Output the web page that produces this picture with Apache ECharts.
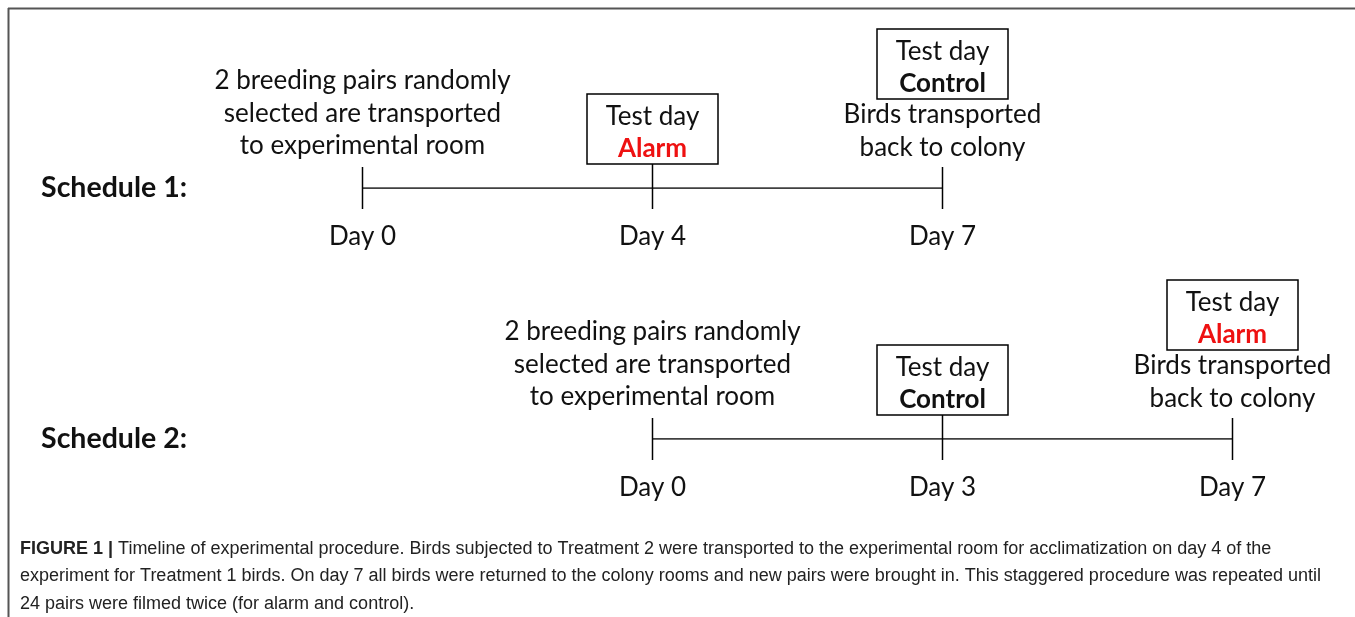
<!DOCTYPE html>
<html>
<head>
<meta charset="utf-8">
<script src="https://cdn.jsdelivr.net/npm/echarts@6/dist/echarts.min.js"></script>
<style>
  html, body { margin: 0; padding: 0; background: #fff; }
  #chart { width: 1355px; height: 617px; }
</style>
</head>
<body>
<div id="chart"></div>
<script>
// timeline data: slot = evenly spaced position on the shared axis
const schedules = ['Schedule 1:', 'Schedule 2:'];
const slots1 = [0, 1, 2];
const days1 = ['Day 0', 'Day 4', 'Day 7'];
const tests1 = ['', 'Alarm', 'Control'];
const slots2 = [1, 2, 3];
const days2 = ['Day 0', 'Day 3', 'Day 7'];
const tests2 = ['', 'Control', 'Alarm'];
const startNote = ['2 breeding pairs randomly', 'selected are transported', 'to experimental room'];
const endNote = ['Birds transported', 'back to colony'];
const captionLines = [
    'Timeline of experimental procedure. Birds subjected to Treatment 2 were transported to the experimental room for acclimatization on day 4 of the',
    'experiment for Treatment 1 birds. On day 7 all birds were returned to the colony rooms and new pairs were brought in. This staggered procedure was repeated until',
    '24 pairs were filmed twice (for alarm and control).'
];

const FONT = 'Lato, "Open Sans", sans-serif';
const SIZE = 26;
const INK = '#111';
const RED = '#ee1111';
const CAP_FONT = '"Liberation Sans Narrow", "Liberation Sans", sans-serif';

function txt(x, y, s, bold, color) {
    return {
        type: 'text',
        x: x,
        y: y,
        style: {
            text: s,
            fill: color || INK,
            font: (bold ? 'bold ' : '') + SIZE + 'px ' + FONT,
            align: 'center',
            verticalAlign: 'middle'
        }
    };
}

function makeRender(days, tests) {
    return function (params, api) {
        const i = params.dataIndex;
        const p = api.coord([api.value(0), api.value(1)]);
        const x = Math.round(p[0]) + 0.5, y = Math.round(p[1]);
        const last = i === days.length - 1;
        const children = [];
        let tickTop = y - 21;
        if (i === 0) {
            startNote.forEach((s, k) => children.push(txt(x, y - 107 + k * 32.5, s)));
        } else {
            const boxBottom = last ? y - 89 : y - 24;
            if (!last) tickTop = boxBottom;
            children.push({
                type: 'rect',
                shape: { x: x - 65.5, y: boxBottom - 70, width: 131, height: 70 },
                style: { fill: '#fff', stroke: '#000', lineWidth: 1.5 }
            });
            children.push(txt(x, boxBottom - 47, 'Test day'));
            children.push(txt(x, boxBottom - 15, tests[i], true, tests[i] === 'Alarm' ? RED : INK));
            if (last) {
                endNote.forEach((s, k) => children.push(txt(x, y - 73 + k * 32.5, s)));
            }
        }
        children.push({
            type: 'line',
            shape: { x1: x, y1: tickTop, x2: x, y2: y + 21 },
            style: { stroke: '#000', lineWidth: 1.5 }
        });
        children.push(txt(x, y + 49, days[i]));
        return { type: 'group', children: children };
    };
}

const chart = echarts.init(document.getElementById('chart'));
chart.setOption({
    animation: false,
    backgroundColor: '#fff',
    grid: { left: 362, right: 123, top: 188, bottom: 178 },
    xAxis: {
        type: 'value', min: 0, max: 3, show: false
    },
    yAxis: {
        type: 'value', min: 1, max: 2, interval: 1, inverse: true,
        axisLine: { show: false }, axisTick: { show: false }, splitLine: { show: false },
        axisLabel: {
            margin: 175,
            formatter: v => schedules[v - 1],
            fontFamily: FONT, fontSize: 28.5, fontWeight: 'bold', color: INK
        }
    },
    title: {
        left: 20, top: 535, padding: 0,
        text: '{b|FIGURE 1 |} ' + captionLines.join('\n'),
        textStyle: {
            fontFamily: CAP_FONT,
            fontSize: 18, fontWeight: 'normal', color: '#222', lineHeight: 27.5,
            rich: {
                b: { fontFamily: CAP_FONT, fontSize: 18, fontWeight: 'bold', color: '#222' }
            }
        }
    },
    graphic: [
        { type: 'line', shape: { x1: 8, y1: 8.5, x2: 1355, y2: 8.5 }, style: { stroke: '#555', lineWidth: 2 } },
        { type: 'line', shape: { x1: 8.5, y1: 8, x2: 8.5, y2: 617 }, style: { stroke: '#555', lineWidth: 2 } }
    ],
    series: [
        {
            type: 'line', symbol: 'none', silent: true,
            data: [[slots1[0], 1], [slots1[slots1.length - 1], 1]],
            lineStyle: { color: '#000', width: 1.5 }
        },
        {
            type: 'line', symbol: 'none', silent: true,
            data: [[slots2[0], 2], [slots2[slots2.length - 1], 2]],
            lineStyle: { color: '#000', width: 1.5 }
        },
        {
            type: 'custom', clip: false, silent: true,
            data: slots1.map(s => [s, 1]),
            renderItem: makeRender(days1, tests1)
        },
        {
            type: 'custom', clip: false, silent: true,
            data: slots2.map(s => [s, 2]),
            renderItem: makeRender(days2, tests2)
        }
    ]
});
</script>
</body>
</html>
